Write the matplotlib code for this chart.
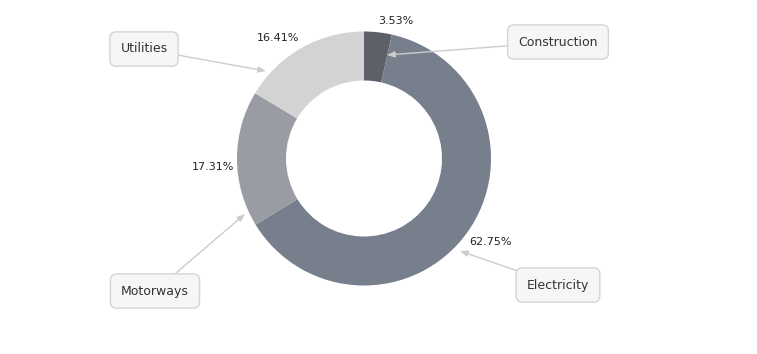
import matplotlib
matplotlib.use("Agg")
import matplotlib.pyplot as plt

# ---- data ----
categories = ["Construction", "Electricity", "Motorways", "Utilities"]
values = [3.53, 62.75, 17.31, 16.41]
colors = ["#5d6069", "#777e8c", "#999ca3", "#d3d3d3"]

# ---- layout (pixel coordinates, origin top-left) ----
W, H = 757, 354
cx, cy = 364, 158.5
R_out, R_in = 127, 78
pct_pos = {"Construction": (396, 21), "Electricity": (491, 242),
           "Motorways": (213, 167), "Utilities": (278, 38)}
box_pos = {"Construction": (558, 42), "Electricity": (558, 285),
           "Motorways": (155, 291), "Utilities": (144, 49)}
arrow_tip = {"Construction": (387, 55), "Electricity": (460, 251),
             "Motorways": (245, 214), "Utilities": (266, 71)}

fig = plt.figure(figsize=(W / 100, H / 100), dpi=100)
ax = fig.add_axes([0, 0, 1, 1])
ax.set_xlim(0, W)
ax.set_ylim(0, H)
ax.axis("off")

def P(x, y):
    return (x, H - y)

ax.pie(values, colors=colors, startangle=90, counterclock=False,
       radius=R_out, center=P(cx, cy),
       wedgeprops=dict(width=R_out - R_in, edgecolor="none"))
ax.set_xlim(0, W)
ax.set_ylim(0, H)
ax.set_aspect("equal")

for cat, v in zip(categories, values):
    ax.text(*P(*pct_pos[cat]), f"{v:.2f}%", ha="center", va="center",
            fontsize=8, color="#222222", family="DejaVu Sans")
    ax.annotate(cat, xy=P(*arrow_tip[cat]), xytext=P(*box_pos[cat]),
                ha="center", va="center", fontsize=9, color="#333333",
                family="DejaVu Sans",
                bbox=dict(boxstyle="round,pad=0.85,rounding_size=0.5",
                          fc="#f6f6f6", ec="#d4d4d4", lw=1),
                arrowprops=dict(arrowstyle="-|>,head_length=0.5,head_width=0.2",
                                color="#cccccc", lw=1, shrinkA=0, shrinkB=0))

fig.savefig("out.png", dpi=100)
